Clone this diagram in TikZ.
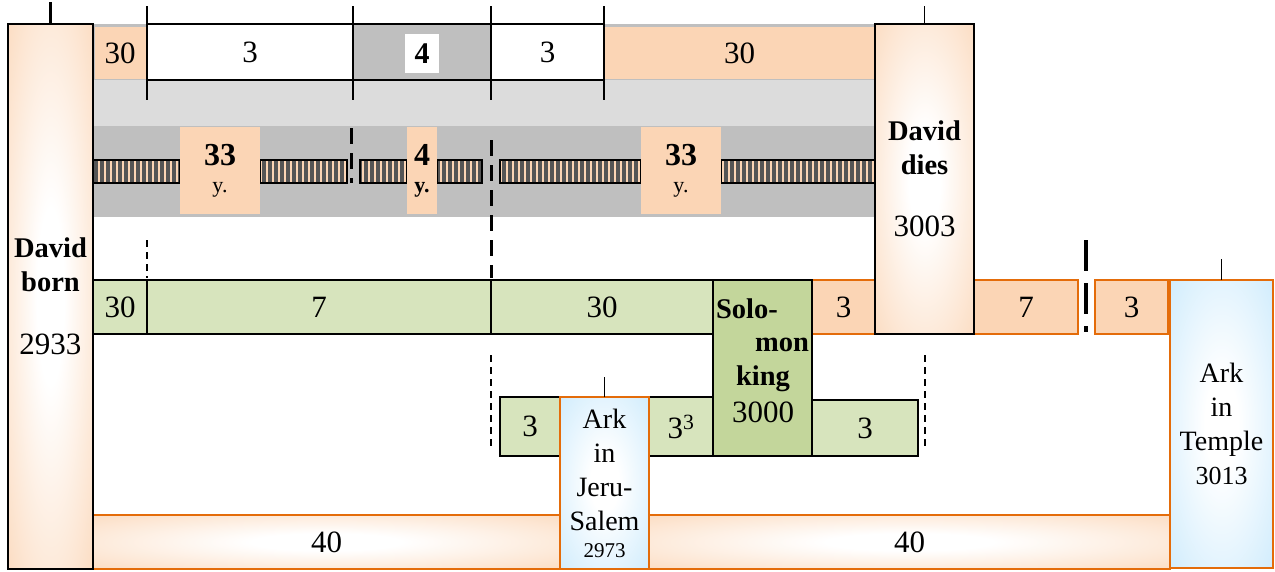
\documentclass[tikz,border=0pt]{standalone}
\usepackage{fontspec}
\setmainfont{Liberation Serif}
\definecolor{peach}{RGB}{251,213,181}
\definecolor{orng}{RGB}{228,108,10}
\definecolor{grnlt}{RGB}{215,228,189}
\definecolor{grndk}{RGB}{195,214,155}
\definecolor{skyb}{RGB}{198,232,252}
\definecolor{bandgray}{RGB}{191,191,191}
\definecolor{dotgray}{RGB}{220,220,220}
\definecolor{stripedk}{RGB}{85,85,85}
\pgfdeclareradialshading{peachglow}{\pgfpoint{0bp}{0bp}}{color(0bp)=(white); color(8bp)=(white); color(42bp)=(peach); color(50bp)=(peach)}
\pgfdeclareradialshading{skyglow}{\pgfpoint{0bp}{0bp}}{color(0bp)=(white); color(8bp)=(white); color(42bp)=(skyb); color(50bp)=(skyb)}

\begin{document}
\begin{tikzpicture}[x=1pt, y=-1pt,
	every node/.style={inner sep=0, outer sep=0},
	num/.style={font=\fontsize{31}{34}\selectfont},
	lbl/.style={font=\bfseries\fontsize{28.5}{34}\selectfont},
	blk/.style={draw=black, line width=1.5pt},
	org/.style={draw=orng, line width=1.8pt},
	tick/.style={line width=1.2pt},
	ldash/.style={line width=1.2pt, dash pattern=on 7pt off 5pt},
	hdash/.style={line width=3pt, dash pattern=on 16pt off 9pt},
	cell/.style={blk, num, minimum height=56},
	gcell/.style={blk, num, fill=grnlt, minimum height=54},
	ocell/.style={org, num, fill=peach, minimum height=54},
	ybox/.style={fill=peach, align=center, minimum height=87,
				font=\bfseries\fontsize{32}{27}\selectfont}]
	\useasboundingbox (0,0) rectangle (1275,571);

	% gray bands behind the top rows
	\fill[bandgray] (93,24) rectangle (875,217);
	\fill[dotgray] (93,80) rectangle (875,126);

	% top row
	\node[fill=peach, num, minimum width=51, minimum height=52] (tp30a) at (120,53) {30};
	\node[cell, fill=white, minimum width=206] (tw3a) at (250,52) {3};
	\node[cell, fill=bandgray, minimum width=138] (tg4) at (422,52) {};
	\node[fill=white, font=\bfseries\fontsize{30}{34}\selectfont,
		minimum width=34, minimum height=39] (t4) at (422,53.5) {4};
	\node[cell, fill=white, minimum width=113] (tw3b) at (547.5,52) {3};
	\node[fill=peach, num, minimum width=269, minimum height=52] (tp30b) at (739.5,53) {30};
	\foreach \a in {tw3a.north west, tw3a.north east, tw3b.north west, tw3b.north east}
		\draw[tick] (\a) -- ++(0,-18);
	\foreach \a in {tw3a.south west, tw3a.south east, tw3b.south west, tw3b.south east}
		\draw[tick] (\a) -- ++(0,20);

	% striped bars
	\begin{scope}
		\clip (93,160) rectangle (180,183) (260,160) rectangle (347,183)
			(360,160) rectangle (407,183) (437,160) rectangle (482,183)
			(500,160) rectangle (641,183) (721,160) rectangle (875,183);
		\fill[peach] (93,160) rectangle (875,183);
		\foreach \s in {96,102,...,875}
			\draw[stripedk, line width=3.2pt] (\s,160) -- (\s,183);
	\end{scope}
	\foreach \xa/\xb in {93/180, 260/347, 360/407, 437/482, 500/641, 721/875}
		\draw[blk] (\xa,160) rectangle (\xb,183);

	\node[ybox, minimum width=80] (y33a) at (220,170.5) {33\\{\mdseries\fontsize{22}{27}\selectfont y.}};
	\node[ybox, minimum width=30] (y4) at (422,170.5) {4\\{\fontsize{22}{27}\selectfont y.}};
	\node[ybox, minimum width=80] (y33b) at (681,170.5) {33\\{\mdseries\fontsize{22}{27}\selectfont y.}};

	% dashed marks
	\draw[hdash] (351,128) -- (351,183);
	\draw[hdash] (491,140) -- (491,278);
	\draw[ldash] (147,240) -- (147,278);
	\draw[ldash] (491,355) -- (491,448);
	\draw[ldash] (925,355) -- (925,448);
	\draw[line width=4pt, dash pattern=on 31pt off 12pt] (1086,240) -- (1086,332);

	% middle rows
	\node[gcell, minimum width=54] (g30a) at (120,307) {30};
	\node[gcell, minimum width=344] (g7) at (319,307) {7};
	\node[gcell, minimum width=222] (g30b) at (602,307) {30};
	\node[ocell, minimum width=63] (o3a) at (843.5,307) {3};
	\node[ocell, minimum width=104] (o7) at (1026,307) {7};
	\node[ocell, minimum width=73] (o3b) at (1131.5,307) {3};

	\node[gcell, minimum width=60, minimum height=59] (l3a) at (530,426.5) {3};
	\node[gcell, minimum width=64, minimum height=59] (l33) at (681,426.5) {3\textsuperscript{3}};
	\node[gcell, minimum width=106, minimum height=56] (l3b) at (865,428) {3};

	% bottom bars
	\node[org, num, shade, shading=peachglow, minimum width=467, minimum height=54] (b40a) at (326.5,542) {40};
	\node[org, num, shade, shading=peachglow, minimum width=521, minimum height=54] (b40b) at (909.5,542) {40};

	% ark
	\node[org, shade, shading=skyglow, align=center, font=\fontsize{28}{34}\selectfont,
		minimum width=89, minimum height=172] (arkJ) at (604.5,483)
		{Ark\\in\\Jeru-\hspace*{0.7em}\\Salem\\[-7pt]{\fontsize{21}{25}\selectfont 2973}};
	\draw[tick] (arkJ.north) -- ++(0,-20);
	\node[org, shade, shading=skyglow, align=center, font=\fontsize{28}{34}\selectfont,
		minimum width=103, minimum height=288] (arkT) at (1221.5,424)
		{Ark\\in\\Temple\\{\fontsize{26}{34}\selectfont 3013}};
	\draw[tick] (arkT.north) -- ++(0,-21);

	% Solomon
	\node[blk, fill=grndk, minimum width=99, minimum height=176] (solo) at (762.5,368) {};
	\node[lbl, anchor=base west] (solo1) at (716,318) {Solo-};
	\node[lbl, anchor=base east] (solo2) at (809,351) {mon};
	\node[lbl, anchor=base] (solo3) at (763,385) {king};
	\node[num, anchor=base] (soloy) at (763,422) {3000};

	% David
	\node[blk, shade, shading=peachglow, lbl, align=center, minimum width=85, minimum height=545]
		(dborn) at (50.5,296.5) {David\\born\\[29pt]{\mdseries\fontsize{31}{34}\selectfont 2933}};
	\draw[line width=3.5pt] (dborn.north) -- ++(0,-22);
	\node[blk, shade, shading=peachglow, lbl, align=center, minimum width=99, minimum height=310]
		(ddies) at (924.5,179) {David\\dies\\[28pt]{\mdseries\fontsize{31}{34}\selectfont 3003}};
	\draw[tick] (ddies.north) -- ++(0,-18);
\end{tikzpicture}
\end{document}
